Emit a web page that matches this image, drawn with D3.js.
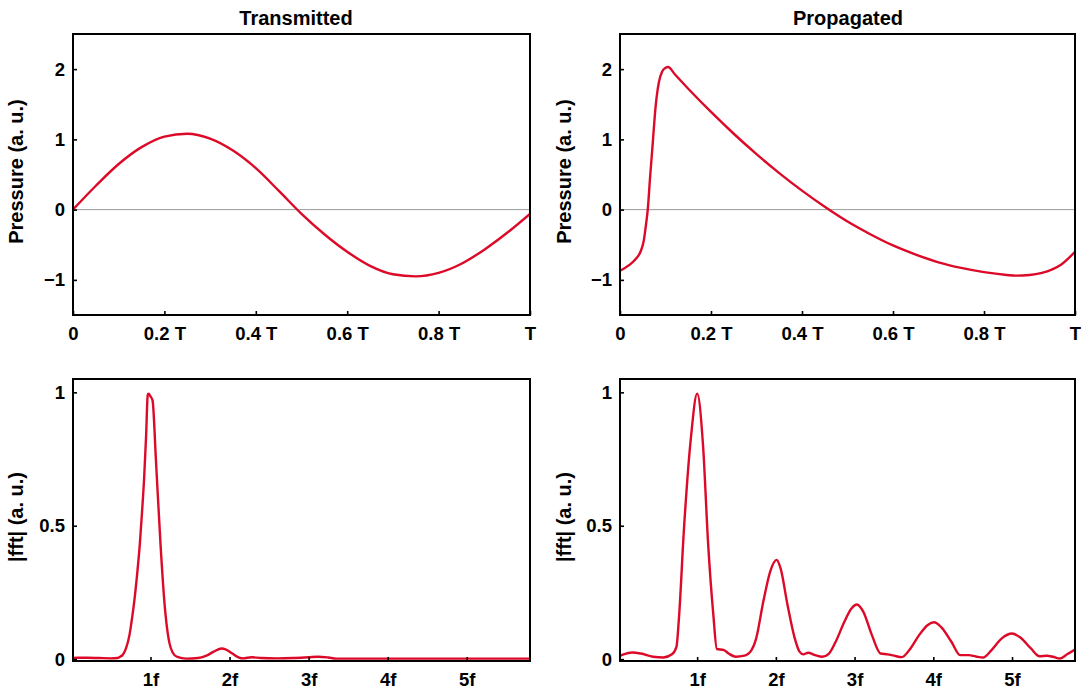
<!DOCTYPE html>
<html>
<head>
<meta charset="utf-8">
<script src="https://cdn.jsdelivr.net/npm/d3@7"></script>
<style>
  body { margin: 0; background: #fff; }
  text { font-family: "Liberation Sans", Arial, Helvetica, sans-serif; font-weight: bold; fill: #000; }
</style>
</head>
<body>
<div id="chart"></div>
<script>
// time axis (fraction of period T)
const timeTicks = [0, 0.2, 0.4, 0.6, 0.8, 1];
const timeTickLabels = ["0", "0.2 T", "0.4 T", "0.6 T", "0.8 T", "T"];
const pressureTicks = [-1, 0, 1, 2];

// transmitted pressure waveform
const transT = [0, 0.05, 0.1, 0.15, 0.2, 0.25, 0.3, 0.35, 0.4, 0.45, 0.5, 0.55, 0.6, 0.65, 0.7, 0.75, 0.8, 0.85, 0.9, 0.95, 1.0];
const transP = [0, 0.34, 0.65, 0.89, 1.04, 1.08, 1.01, 0.84, 0.59, 0.27, -0.06, -0.35, -0.60, -0.80, -0.92, -0.95, -0.90, -0.77, -0.57, -0.33, -0.06];

// propagated pressure waveform
const propT = [0, 0.02, 0.035, 0.045, 0.052, 0.057, 0.061, 0.066, 0.072, 0.078, 0.085, 0.093, 0.1, 0.106, 0.12, 0.15, 0.2, 0.25, 0.3, 0.35, 0.4, 0.45, 0.5, 0.55, 0.6, 0.65, 0.7, 0.75, 0.8, 0.85, 0.87, 0.9, 0.95, 0.97, 1.0];
const propP = [-0.87, -0.79, -0.70, -0.60, -0.45, -0.22, 0.0, 0.45, 0.95, 1.45, 1.80, 1.97, 2.02, 2.03, 1.93, 1.72, 1.39, 1.08, 0.79, 0.52, 0.27, 0.04, -0.17, -0.35, -0.51, -0.64, -0.75, -0.83, -0.89, -0.93, -0.94, -0.93, -0.85, -0.78, -0.60];

// frequency axis (multiples of f)
const freqTicks = [1, 2, 3, 4, 5];
const freqTickLabels = ["1f", "2f", "3f", "4f", "5f"];
const fftTicks = [0, 0.5, 1];

// spectrum of the transmitted wave
const transF = [0.02, 0.08, 0.2, 0.35, 0.5, 0.58, 0.62, 0.646, 0.69, 0.734, 0.77, 0.8, 0.835, 0.865, 0.895, 0.92, 0.945, 0.965, 0.975, 1.0, 1.026, 1.07, 1.127, 1.18, 1.2, 1.24, 1.28, 1.34, 1.45, 1.6, 1.7, 1.8, 1.9, 1.95, 2.03, 2.12, 2.17, 2.28, 2.4, 2.6, 2.8, 3.0, 3.12, 3.25, 3.35, 3.6, 4.0, 4.5, 5.0, 5.5, 5.8];
const transA = [0.004, 0.005, 0.005, 0.004, 0.003, 0.004, 0.01, 0.015, 0.04, 0.09, 0.16, 0.23, 0.33, 0.43, 0.56, 0.68, 0.84, 0.99, 0.995, 0.985, 0.97, 0.74, 0.43, 0.2, 0.14, 0.06, 0.025, 0.008, 0.002, 0.004, 0.012, 0.028, 0.04, 0.037, 0.022, 0.006, 0.003, 0.007, 0.004, 0.003, 0.004, 0.007, 0.009, 0.006, 0.002, 0.002, 0.002, 0.002, 0.002, 0.002, 0.002];

// spectrum of the propagated wave
const propF = [0.02, 0.066, 0.175, 0.285, 0.44, 0.57, 0.68, 0.737, 0.768, 0.833, 0.921, 1.0, 1.075, 1.14, 1.206, 1.25, 1.34, 1.40, 1.49, 1.60, 1.69, 1.75, 1.84, 1.93, 2.01, 2.06, 2.15, 2.24, 2.30, 2.35, 2.41, 2.5, 2.59, 2.675, 2.76, 2.87, 2.96, 3.03, 3.11, 3.22, 3.33, 3.42, 3.5, 3.60, 3.71, 3.82, 3.93, 4.01, 4.10, 4.23, 4.34, 4.45, 4.54, 4.63, 4.74, 4.87, 5.0, 5.11, 5.24, 5.35, 5.44, 5.52, 5.61, 5.70, 5.8];
const propA = [0.012, 0.018, 0.025, 0.021, 0.009, 0.006, 0.018, 0.046, 0.15, 0.49, 0.83, 0.995, 0.80, 0.43, 0.165, 0.038, 0.034, 0.021, 0.009, 0.013, 0.034, 0.078, 0.215, 0.33, 0.372, 0.34, 0.20, 0.078, 0.028, 0.018, 0.024, 0.015, 0.009, 0.021, 0.065, 0.14, 0.19, 0.205, 0.178, 0.09, 0.021, 0.018, 0.013, 0.0075, 0.04, 0.09, 0.128, 0.138, 0.12, 0.065, 0.015, 0.015, 0.01, 0.006, 0.034, 0.078, 0.096, 0.08, 0.04, 0.011, 0.0125, 0.009, 0.0025, 0.018, 0.036];

const W = 1081, H = 690;
const red = "#dc0a28";

const svg = d3.select("#chart").append("svg")
    .attr("width", W)
    .attr("height", H);

const panels = [
    { id: "tl", x0: 73, x1: 530, y0: 34, y1: 315, xs: transT, ys: transP, title: "Transmitted", titleX: 296,
      xDomain: [0, 1], yDomain: [-1.5, 2.5], xTicks: timeTicks, xLabels: timeTickLabels, yTicks: pressureTicks,
      yLabel: "Pressure (a. u.)", yLabelX: 16, zeroLine: true },
    { id: "tr", x0: 620, x1: 1075, y0: 34, y1: 315, xs: propT, ys: propP, title: "Propagated", titleX: 848,
      xDomain: [0, 1], yDomain: [-1.5, 2.5], xTicks: timeTicks, xLabels: timeTickLabels, yTicks: pressureTicks,
      yLabel: "Pressure (a. u.)", yLabelX: 564, zeroLine: true },
    { id: "bl", x0: 73, x1: 530, y0: 379, y1: 661, xs: transF, ys: transA,
      xDomain: [0.02, 5.8], yDomain: [-0.007, 1.05], xTicks: freqTicks, xLabels: freqTickLabels, yTicks: fftTicks,
      yLabel: "|fft| (a. u.)", yLabelX: 16, zeroLine: false },
    { id: "br", x0: 620, x1: 1075, y0: 379, y1: 661, xs: propF, ys: propA,
      xDomain: [0.02, 5.8], yDomain: [-0.007, 1.05], xTicks: freqTicks, xLabels: freqTickLabels, yTicks: fftTicks,
      yLabel: "|fft| (a. u.)", yLabelX: 564, zeroLine: false }
];

panels.forEach(p => drawPanel(p));

function drawPanel(p) {
    const x = d3.scaleLinear().domain(p.xDomain).range([p.x0, p.x1]);
    const y = d3.scaleLinear().domain(p.yDomain).range([p.y1, p.y0]);
    const g = svg.append("g");

    g.append("clipPath").attr("id", "clip-" + p.id)
        .append("rect")
        .attr("x", p.x0).attr("y", p.y0)
        .attr("width", p.x1 - p.x0).attr("height", p.y1 - p.y0);

    if (p.zeroLine) {
        g.append("line")
            .attr("x1", p.x0).attr("x2", p.x1)
            .attr("y1", y(0)).attr("y2", y(0))
            .attr("stroke", "#9a9a9a")
            .attr("stroke-width", 1);
    }

    const pts = p.xs.map((v, i) => [v, p.ys[i]]);
    const line = d3.line()
        .x(d => x(d[0]))
        .y(d => y(d[1]))
        .curve(d3.curveMonotoneX);

    g.append("path")
        .datum(pts)
        .attr("clip-path", "url(#clip-" + p.id + ")")
        .attr("fill", "none")
        .attr("stroke", red)
        .attr("stroke-width", 2.4)
        .attr("stroke-linejoin", "round")
        .attr("d", line);

    // axes, ticks pointing inward
    const xAxis = d3.axisBottom(x)
        .tickValues(p.xTicks)
        .tickFormat((d, i) => p.xLabels[i])
        .tickSize(-4)
        .tickPadding(11.5);
    const yAxis = d3.axisLeft(y)
        .tickValues(p.yTicks)
        .tickFormat(d => d < 0 ? "\u2212" + Math.abs(d) : String(d))
        .tickSize(-4)
        .tickPadding(8);

    const gx = g.append("g").attr("transform", `translate(0,${p.y1})`).call(xAxis);
    const gy = g.append("g").attr("transform", `translate(${p.x0},0)`).call(yAxis);
    [gx, gy].forEach(a => {
        a.select(".domain").remove();
        a.selectAll(".tick line").attr("stroke", "#000").attr("stroke-width", 1.6);
        a.selectAll(".tick text")
            .attr("font-size", 18.5)
            .attr("font-family", "Liberation Sans, Arial, Helvetica, sans-serif")
            .attr("font-weight", "bold")
            .attr("fill", "#000");
    });

    // frame
    g.append("rect")
        .attr("x", p.x0).attr("y", p.y0)
        .attr("width", p.x1 - p.x0).attr("height", p.y1 - p.y0)
        .attr("fill", "none")
        .attr("stroke", "#000")
        .attr("stroke-width", 2);

    if (p.title) {
        g.append("text")
            .attr("x", p.titleX)
            .attr("y", 25)
            .attr("text-anchor", "middle")
            .attr("font-size", 20)
            .text(p.title);
    }

    g.append("text")
        .attr("transform", `translate(${p.yLabelX},${(p.y0 + p.y1) / 2 - 3}) rotate(-90)`)
        .attr("text-anchor", "middle")
        .attr("dy", "0.36em")
        .attr("font-size", 20)
        .text(p.yLabel);
}
</script>
</body>
</html>
